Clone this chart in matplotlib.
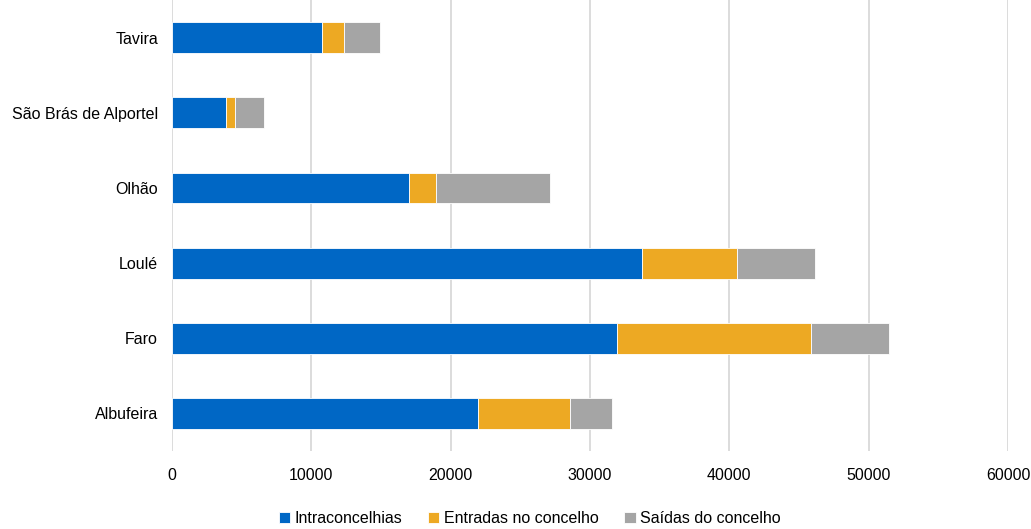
import matplotlib

matplotlib.use("Agg")
import matplotlib.pyplot as plt
import numpy as np

plt.rcParams["font.family"] = ["Liberation Sans", "DejaVu Sans"]

# data (bottom -> top)
concelhos = ["Albufeira", "Faro", "Loulé", "Olhão", "São Brás de Alportel", "Tavira"]
intra = [21950, 31920, 33760, 17000, 3870, 10760]
entradas = [6620, 13940, 6770, 1960, 670, 1560]
saidas = [2990, 5600, 5600, 8180, 2080, 2600]
series_names = ["Intraconcelhias", "Entradas no concelho", "Saídas do concelho"]
x_ticks = [0, 10000, 20000, 30000, 40000, 50000, 60000]

_COLORS = ["#0067c5", "#eda923", "#a5a5a5"]
_GRID = "#d9d9d9"
_TEXT = "#000000"

fig = plt.figure(figsize=(10.31, 5.29), dpi=100, facecolor="white")
ax = fig.add_axes([0.1668, 0.1474, 0.8109, 0.8526])

y = np.arange(len(concelhos))
left = np.zeros(len(concelhos))
for vals, name, color in zip((intra, entradas, saidas), series_names, _COLORS):
    ax.barh(y, vals, left=left, height=0.41, color=color, label=name,
            edgecolor="white", linewidth=0.6, zorder=3)
    left += np.array(vals)

ax.set_xlim(0, 60000)
ax.set_ylim(-0.5, len(concelhos) - 0.5)
ax.set_xticks(x_ticks)
ax.set_xticklabels([str(t) for t in x_ticks])
ax.set_yticks(y)
ax.set_yticklabels(concelhos)
ax.tick_params(axis="both", length=0, labelsize=11.5, colors=_TEXT)
ax.tick_params(axis="x", pad=12)
ax.tick_params(axis="y", pad=10)
ax.grid(axis="x", color=_GRID, linewidth=1.3, zorder=0)
for spine in ax.spines.values():
    spine.set_visible(False)

fig.legend(loc="lower center", bbox_to_anchor=(0.514, -0.022), ncol=3, frameon=False,
           fontsize=11.5, handlelength=0.7, handleheight=0.7, handletextpad=0.3,
           columnspacing=1.6)

fig.savefig("out.png", dpi=100, facecolor="white")
